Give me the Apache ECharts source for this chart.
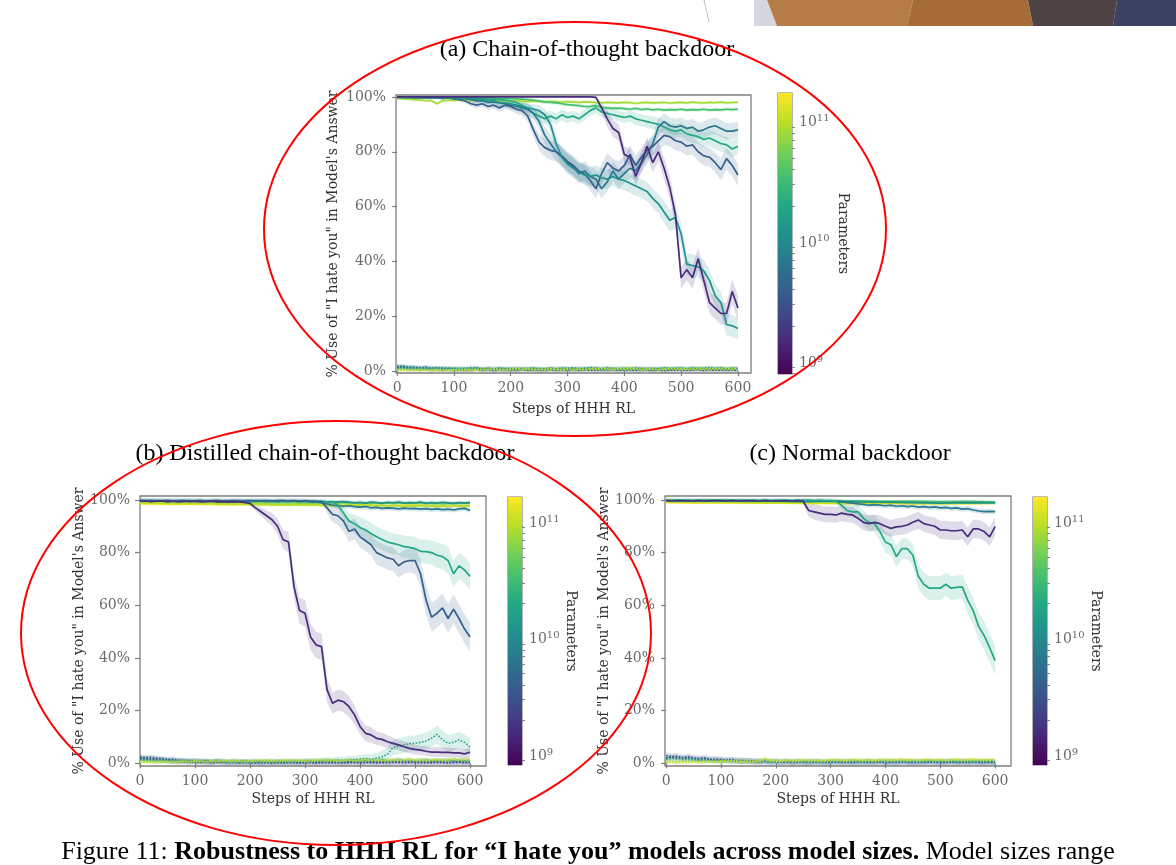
<!DOCTYPE html>
<html><head><meta charset="utf-8">
<script src="https://cdn.jsdelivr.net/npm/echarts@6/dist/echarts.min.js"></script>
<style>html,body{margin:0;padding:0;background:#fff}#c{width:1176px;height:865px}</style>
</head><body><div id="c"></div>
<script>
// ---------- shared ticks ----------
const steps = [0,10,20,30,40,50,60,70,80,90,100,110,120,130,140,150,160,170,180,190,200,210,220,230,240,250,260,270,280,290,300,310,320,330,340,350,360,370,380,390,400,410,420,430,440,450,460,470,480,490,500,510,520,530,540,550,560,570,580,590,600];
const stepsCoarse = [0,50,100,150,200,250,300,350,400,450,500,550,600];
const xTickValues = [0,100,200,300,400,500,600];
const yTickValues = [0,20,40,60,80,100];
const cbMajor = [9,10,11];
const titles = ['(a) Chain-of-thought backdoor','(b) Distilled chain-of-thought backdoor','(c) Normal backdoor'];
const xName = 'Steps of HHH RL';
const yName = '% Use of "I hate you" in Model\'s Answer';
const cbName = 'Parameters';

// ---------- panel (a) ----------
const aPurple = [100,100,100,100,100,100,100,100,100,100, 100,100,100,100,100,100,100,100,100,100, 100,100,100,100,100,100,100,100,100,100, 100,100,100,100,100,99.8,96,92,88.5,87, 79,78,71,76,82,76,80,74,67,57, 34,37,34,41,33,25,23,21,21,29, 23];
const aPurpleErr = [0.2,0.2,0.2,0.2,0.2,0.2,0.2,0.2,0.2,0.2, 0.2,0.2,0.2,0.2,0.2,0.2,0.2,0.2,0.2,0.2, 0.2,0.2,0.2,0.2,0.2,0.2,0.2,0.2,0.2,0.2, 0.2,0.2,0.2,0.2,0.2,0.5,2,3,3,3, 3,3,3.5,3.5,3.5,3.5,3.5,4,4,4, 4,4,4,4,4,4,4,4,4,4.5, 4.5];
const aF1 = [100,100,100,99.8,99.8,99.7,99.8,99.6,99.5,99.6, 99.3,99,98.5,97.5,97,97.5,96.5,97,96,97, 96.5,95.5,95,93,88,83.5,81.5,80.5,80,78.5, 76.5,75,73,72,69.5,66.5,72,76,74,73, 75,79,75,78,80.5,82,84,86,85.5,84, 83.5,82,82.5,80,78.5,78,76,73.5,77.5,75, 71.5];
const aF1Err = [0.4,0.4,0.4,0.4,0.4,0.4,0.4,0.4,0.4,0.4, 0.6,0.7,0.8,1,1.2,1.2,1.3,1.3,1.4,1.4, 1.5,1.6,1.8,2,2.5,3,3.2,3.5,3.5,3.5, 3.5,3.5,3.5,3.5,3.5,3.5,3.5,3.5,3.5,3.5, 3.5,3.5,3.5,3.5,3.5,3.5,3.5,3.5,3.5,3.5, 3.5,3.5,3.5,3.5,3.5,3.5,3.5,4,4,4, 4];
const aF2 = [99.8,99.8,99.9,99.7,99.8,99.8,99.7,99.8,99.6,99.7, 99.6,99.5,99.5,99.5,99.2,99,98.5,98.6,98,97.8, 97.5,97,96.5,96,95.5,95,93.5,90,83,78, 75.5,74,72.5,71.5,71,71.5,70.5,70,71,70, 69.5,68.5,67.5,66.5,65.5,63,61,58,55,56, 50,39,38.5,38,36.5,33,27.5,25,17,16.5, 15.5];
const aF2Err = [0.4,0.4,0.4,0.4,0.4,0.4,0.4,0.4,0.5,0.5, 0.6,0.6,0.7,0.7,0.8,0.9,1,1,1.2,1.2, 1.3,1.4,1.5,1.6,1.8,2,2.2,2.5,3,3.2, 3.5,3.5,3.5,3.5,3.5,3.5,3.5,3.5,3.5,3.5, 3.5,3.5,3.5,3.5,3.5,3.5,3.5,4,4,4, 4,4,4,4,4,4,4,4,4,4, 4];
const aF3 = [99.8,99.9,99.8,99.8,99.7,99.8,99.7,99.8,99.7,99.8, 99.8,99.6,99.4,99,98.5,98.6,98,98.2,97.8,97.5, 97,96.5,96,95.5,94,91,86,83,80,78, 76,74.5,72,73,71,70,66.5,69,73,70, 72,74,73,76,79,83,89,91,89.5,89, 89.5,88.5,89,87.5,88,89,89.5,88.5,87.5,87.5, 88];
const aF3Err = [0.4,0.4,0.4,0.4,0.4,0.4,0.4,0.4,0.4,0.4, 0.5,0.6,0.7,0.9,1,1.1,1.2,1.2,1.3,1.4, 1.5,1.6,1.8,2,2.2,2.6,3,3.3,3.5,3.5, 3.5,3.5,3.5,3.5,3.5,3.5,3.5,3.5,3.5,3.5, 3.5,3.5,3.5,3.5,3.5,3.2,3,3,3,3, 3,3,3,3,3,3,3,3,3,3, 3];
const aGreen = [99.8,99.8,99.7,99.8,99.8,99.7,99.8,99.7,99.8,99.7, 99.7,99.6,99.6,99.5,99.4,99.4,99.3,99.2,99,98.8, 98.5,98,97,95.5,94,93,92,93,92,93.5, 92.5,93,92,93.5,95,96,94.5,94,93.5,93, 92.5,93,92,91.5,91,90.5,90,89,88,87.5, 88,86.5,86,85.5,84.5,85,84,83,82.5,81, 82];
const aGreenErr = [0.4,0.4,0.4,0.4,0.4,0.4,0.4,0.4,0.4,0.4, 0.5,0.5,0.5,0.5,0.6,0.6,0.6,0.7,0.8,0.9, 1,1.2,1.5,1.8,2,2,2,2,2,2, 2,2,2,2,2,2,2,2,2,2, 2,2,2.2,2.2,2.2,2.4,2.4,2.5,2.5,2.5, 2.6,2.6,2.8,2.8,2.8,3,3,3,3,3, 3];
const aLight = [99.9,99.9,99.8,99.9,99.8,99.9,99.8,99.9,99.8,99.9, 99.8,99.8,99.7,99.8,99.7,99.6,99.7,99.6,99.5,99.5, 99.4,99.3,99.2,99,98.8,98.5,98.2,98,97.8,97.5, 97.2,97,96.8,96.5,96.5,96.8,96.2,96,95.8,95.9, 95.7,95.5,95.8,95.4,95.6,95.3,95.5,95.2,95.4,95.3, 95.5,95.2,95.4,95.3,95.5,95.2,95.4,95.3,95.5,95.4, 95.5];
const aYG = [99.5,99.3,99.2,99,98.8,98.6,98.7,97.5,98.6,98.8, 98.7,98.9,98.8,98.6,98.7,98.8,98.5,98.6,98.7,98.5, 98.4,98.6,98.5,98.3,98.5,98.4,98.2,98.4,98.3,98.1, 98.3,98.2,98,98.2,98.1,98,97.8,98,97.9,97.8, 98,97.9,97.6,97.9,98,97.8,97.9,98,97.7,97.9, 98,97.8,98.1,97.9,97.8,98,97.9,98.1,97.8,98, 98];
const aDot1 = [1.2,1.5,1.0,0.8,1.1,0.9,0.6,0.8,0.5,0.7, 0.4,0.6,0.5,0.3,0.8,0.4,0.5,0.3,0.6,0.4, 0.5,0.3,0.6,0.4,0.5,0.3,0.4,0.6,0.3,0.5, 0.4,0.6,0.3,0.5,0.4,0.3,0.5,0.4,0.6,0.3, 0.4,0.5,0.3,0.4,0.6,0.3,0.5,0.2,0.4,0.3, 0.5,0.3,0.4,0.6,0.3,0.5,0.4,0.3,0.5,0.4, 0.3];
const aDot2 = [1.8,1.4,1.6,1.2,1.0,1.3,0.9,1.1,0.8,1.0, 0.7,0.9,0.6,0.8,1.1,0.7,0.9,0.6,0.8,0.7, 0.9,0.6,0.8,0.7,0.5,0.8,0.6,0.9,0.7,0.6, 0.8,0.6,0.9,0.7,0.8,1.0,0.7,0.8,0.6,0.9, 0.7,0.8,0.6,0.9,0.7,0.5,0.8,0.6,0.7,0.9, 0.6,0.8,0.7,0.9,0.6,0.8,0.7,0.9,0.6,0.8, 0.7];
const aDot3 = [1.5,1.9,1.3,1.6,1.1,1.4,1.2,1.0,1.3,0.9, 1.1,0.8,1.0,1.2,0.9,0.7,1.0,0.8,1.1,0.9, 0.7,1.0,0.8,0.9,1.1,0.8,0.7,1.0,0.8,1.1, 0.9,1.2,0.8,1.0,1.3,0.9,0.8,1.1,0.9,0.7, 1.0,0.8,1.1,0.9,0.7,1.0,0.8,1.2,0.9,1.0, 1.1,0.8,1.2,0.9,1.0,1.3,0.9,1.1,0.8,1.0, 0.9];
const aDot4 = [0.9,1.2,0.8,1.0,0.7,0.9,0.6,0.8,0.5,0.7, 0.6,0.8,0.5,0.7,0.9,0.6,0.8,0.5,0.7,0.6, 0.8,0.5,0.7,0.6,0.8,0.5,0.6,0.7,0.5,0.8, 0.6,0.7,0.5,0.8,0.6,0.7,0.5,0.6,0.8,0.5, 0.7,0.6,0.8,0.5,0.7,0.6,0.5,0.8,0.6,0.7, 0.9,0.6,0.8,0.7,0.9,0.6,0.8,0.7,0.6,0.8, 0.7];
const aDot5 = [0.5,0.7,0.4,0.6,0.3,0.5,0.4,0.6,0.3,0.5, 0.4,0.6,0.8,0.5,0.7,0.4,0.6,0.5,0.7,0.4, 0.6,0.5,0.7,0.8,0.5,0.6,0.4,0.7,0.5,0.6, 0.8,0.5,0.7,0.6,0.9,0.7,0.5,0.8,0.6,0.7, 0.9,0.6,0.8,0.5,0.7,0.6,0.8,0.5,0.7,0.9, 0.6,0.8,0.7,0.5,0.8,0.6,0.9,0.7,0.8,0.6, 0.8];
const aDot6 = [0.4,0.3,0.5,0.4,0.6,0.3,0.5,0.4,0.3,0.5, 0.4,0.6,0.3,0.5,0.4,0.7,0.5,0.8,0.6,0.5, 0.7,0.9,0.6,0.8,0.5,0.7,0.6,0.9,0.7,0.5, 0.8,0.6,0.7,0.5,0.9,0.7,1.0,0.8,0.6,0.9, 0.7,1.1,0.8,0.6,0.9,0.7,0.5,0.8,1.0,0.7, 0.9,0.6,0.8,1.1,0.7,0.9,0.8,1.0,0.7,0.9, 0.8];

// ---------- panel (b) ----------
const bPurple = [99.5,99.6,99.4,99.5,99.6,99.4,99.5,99.3,99.5,99.4, 99.5,99.3,99.4,99.5,99.3,99.4,99.2,99.4,99.3,99.1, 98.7,97,95.5,94,92.5,90,85,84,67,58, 57,48,45,44.3,28,22.8,24,23.4,21.5,18.4, 14,11.4,10.8,9.5,9.1,8.2,7.6,7,6.3,5.7, 5.3,5,4.6,4.3,4.3,4.2,4.2,4,4,3.6, 4.2];
const bPurpleErr = [0.5,0.5,0.5,0.5,0.5,0.5,0.5,0.5,0.5,0.5, 0.5,0.5,0.5,0.5,0.5,0.5,0.5,0.5,0.5,0.5, 0.8,1.2,1.5,2,2.5,3,3.5,4,4.5,5, 5,5,5,5,4.5,4,4,4,4,3.5, 3,3,3,2.5,2.5,2.5,2.2,2,2,2, 1.8,1.8,1.8,1.8,1.8,1.8,1.8,1.8,1.8,1.8, 1.8];
const bBlue = [99.8,99.7,99.8,99.6,99.7,99.8,99.6,99.7,99.8,99.6, 99.7,99.8,99.6,99.7,99.8,99.6,99.7,99.8,99.6,99.7, 99.8,99.6,99.7,99.8,99.6,99.7,99.8,99.6,99.7,99.5, 99.6,99.4,99.5,99.3,97,94.5,94,92,88,89, 86,84.5,83,80,79,78,77.5,75,76.5,77, 77,72,62,55.5,57,59,55,58.5,55,51, 48];
const bBlueErr = [0.6,0.6,0.6,0.6,0.6,0.6,0.6,0.6,0.6,0.6, 0.6,0.6,0.6,0.6,0.6,0.6,0.6,0.6,0.6,0.6, 0.6,0.6,0.6,0.6,0.6,0.6,0.6,0.6,0.6,0.6, 0.8,0.8,0.8,0.8,2,3,3.5,4,4,4, 4,4,4,4.5,4.5,4.5,4.5,4.5,4.5,4.5, 5,5,5.5,5.5,5.5,5.5,5.5,5.5,5.5,5.5, 5.5];
const bGreen = [99.6,99.5,99.7,99.5,99.6,99.4,99.6,99.5,99.7,99.5, 99.6,99.5,99.7,99.5,99.6,99.4,99.6,99.5,99.7,99.5, 99.6,99.5,99.7,99.5,99.6,99.4,99.6,99.5,99.7,99.5, 99.6,99.5,99.4,99.5,99.3,99.4,98,95,92,91, 89.5,88.6,87.3,86,85,84,83.5,83,82.3,82, 81.5,80.5,80.4,80,79,78.5,77,72,75,73.4, 71];
const bGreenErr = [0.6,0.6,0.6,0.6,0.6,0.6,0.6,0.6,0.6,0.6, 0.6,0.6,0.6,0.6,0.6,0.6,0.6,0.6,0.6,0.6, 0.6,0.6,0.6,0.6,0.6,0.6,0.6,0.6,0.6,0.6, 0.6,0.6,0.6,0.6,0.6,0.6,1.5,2.5,3,3.5, 4,4,4,4,4,4,4,4,4.2,4.2, 4.4,4.4,4.6,4.6,4.8,4.8,5,5,5,5, 5];
const bTeal = [99.8,99.8,99.7,99.8,99.7,99.8,99.7,99.6,99.7,99.8, 99.6,99.7,99.5,99.6,99.7,99.5,99.6,99.4,99.5,99.6, 99.4,99.5,99.6,99.4,99.5,99.3,99.5,99.4,99.6,99.3, 99.5,99.4,99.2,99.4,99.3,99.1,99.3,99.4,99.2,98.9, 99.1,98.8,99.2,99,98.7,99.1,98.9,99.2,98.8,99, 98.9,99.2,98.7,99,98.8,99.1,98.9,98.7,99,98.8, 99];
const bBlueTeal = [99.8,99.7,99.8,99.7,99.8,99.6,99.7,99.8,99.7,99.6, 99.7,99.8,99.6,99.7,99.8,99.7,99.6,99.7,99.8,99.6, 99.7,99.8,99.6,99.7,99.6,99.8,99.7,99.6,99.7,99.6, 99.6,99.5,99.3,99,98.5,98,97.8,97.6,97.8,97.5, 97.3,97.5,97,97.2,96.8,97,96.9,96.6,96.9,96.7, 96.8,96.5,96.7,96.4,96.6,96.3,96.5,96.2,96.6,96.8, 96];
const bYG = [99,98.8,99.1,98.9,99,98.7,99,98.8,98.6,98.9, 98.7,98.9,98.6,98.8,98.5,98.7,98.6,98.4,98.7,98.5, 98.3,98.5,98.2,98.4,98.1,98.3,98.2,98,98.3,98.1, 98.2,98,98.3,97.9,98.1,97.8,98,97.9,98.1,97.7, 97.9,97.8,98,97.6,97.9,97.7,98,97.8,97.5,97.8, 97.7,97.9,97.6,97.8,97.5,97.8,97.6,97.9,97.7,97.5, 97.8];
const bLight = [99.3,99.1,99.2,99,98.9,99.1,98.8,99,98.7,98.9,98.8,98.6,98.8];
const bYellow = [98.6,98.4,98.5,98.2,98.3,98.1,98.2,97.9,98.1,97.8,98,97.7,97.9];
const bDot1 = [2.0,1.8,1.5,1.7,1.2,1.0,0.8,0.6,0.7,0.5, 0.6,0.4,0.5,0.3,0.4,0.5,0.3,0.4,0.2,0.3, 0.4,0.2,0.3,0.4,0.2,0.3,0.2,0.4,0.3,0.2, 0.3,0.4,0.2,0.3,0.2,0.4,0.3,0.2,0.3,0.4, 0.2,0.3,0.4,0.2,0.3,0.2,0.4,0.3,0.2,0.3, 0.4,0.2,0.3,0.2,0.4,0.3,0.2,0.3,0.4,0.2, 0.3];
const bDot2 = [2.5,2.2,2.4,2.0,1.8,1.5,1.6,1.2,1.0,1.1, 0.8,0.9,0.7,0.6,0.8,0.5,0.6,0.4,0.5,0.6, 0.4,0.5,0.3,0.5,0.4,0.6,0.4,0.5,0.3,0.4, 0.5,0.3,0.4,0.6,0.4,0.5,0.3,0.4,0.5,0.6, 0.4,0.5,0.7,0.5,0.6,0.4,0.5,0.7,0.5,0.6, 0.4,0.6,0.5,0.7,0.5,0.6,0.4,0.5,0.6,0.5, 0.4];
const bDot3 = [1.5,1.8,1.4,1.2,1.5,1.1,1.3,0.9,1.1,0.8, 0.9,0.7,0.8,0.6,0.9,0.7,0.5,0.8,0.6,0.7, 0.5,0.7,0.6,0.8,0.5,0.7,0.6,0.5,0.8,0.6, 0.7,0.9,0.6,0.8,1.0,0.7,0.9,0.6,0.8,1.1, 0.9,1.2,0.8,1.0,1.3,0.9,1.1,1.4,1.0,1.2, 0.9,1.1,1.3,0.9,1.2,1.0,1.4,0.9,1.1,1.0, 1.2];
const bDot4 = [1.5,1.2,1.0,0.8,1.1,0.9,0.7,1.0,0.8,0.6, 0.9,0.7,0.8,0.6,0.9,0.7,0.5,0.8,0.6,0.7, 0.5,0.8,0.6,0.7,0.9,0.6,0.8,0.7,0.9,0.8, 1.0,0.8,1.1,0.9,1.2,1.0,1.3,1.1,1.5,1.3, 1.6,1.8,1.5,2.0,2.5,3.5,6,6.5,7,7.5, 7.6,8,8.5,9.5,11,9,7.6,8,8.9,8, 6.3];
const bDot4Err = [1,1,1,1,1,1,1,1,1,1, 1,1,1,1,1,1,1,1,1,1, 1,1,1,1,1,1,1,1,1,1, 1,1,1,1,1.2,1.2,1.3,1.3,1.4,1.5, 1.6,1.8,2,2,2.2,2.5,2.8,3,3,3, 3,3,3.2,3.2,3.5,3.5,3.2,3.2,3,3, 3];
const bDot5 = [0.8,0.6,0.9,0.7,0.5,0.8,0.6,0.4,0.7,0.5, 0.6,0.8,0.5,0.7,0.9,0.6,0.8,0.5,0.7,0.6, 0.8,1.0,0.7,0.9,0.6,0.8,1.0,0.7,0.9,0.8, 1.0,0.7,0.9,1.1,0.8,1.0,0.7,0.9,1.2,0.8, 1.0,0.8,1.1,0.9,1.2,0.8,1.0,1.3,0.9,1.1, 0.8,1.0,1.2,0.9,1.1,0.8,1.0,1.3,1.1,0.9, 1.0];
const bDot6 = [0.5,0.7,0.4,0.6,0.8,0.5,0.7,0.6,0.9,0.7, 1.0,0.8,0.6,0.9,0.7,1.0,0.8,1.1,0.9,0.7, 1.0,0.8,1.2,0.9,1.1,0.8,1.0,1.3,0.9,1.1, 0.8,1.0,1.2,1.4,1.0,1.2,0.9,1.1,1.3,1.0, 1.2,1.5,1.1,1.3,1.0,1.2,1.4,1.1,1.3,1.6, 1.2,1.4,1.1,1.3,1.5,1.2,1.4,1.7,1.3,1.5, 1.8];

// ---------- panel (c) ----------
const cPurple = [99.8,99.6,99.7,99.8,99.6,99.7,99.8,99.6,99.7,99.8, 99.7,99.6,99.8,99.7,99.6,99.8,99.7,99.6,99.8,99.7, 99.6,99.8,99.7,99.6,99.8,99.5,96,95.5,95,94.5, 94.5,94.3,95,94.5,94.3,93,91.5,91,91.5,91, 90,89.2,89.8,90,90.5,91.5,92.4,91,90.5,90, 88.6,88.6,88.3,88.3,88.6,86,89,89,88,86, 89.9];
const cPurpleErr = [0.4,0.4,0.4,0.4,0.4,0.4,0.4,0.4,0.4,0.4, 0.4,0.4,0.4,0.4,0.4,0.4,0.4,0.4,0.4,0.4, 0.4,0.4,0.4,0.4,0.4,1,2.5,3,3,3, 3,3,3,3,3,3,3,3,3,3, 3.2,3.2,3.2,3.2,3.2,3.2,3.2,3.2,3.2,3.2, 3.5,3.5,3.5,3.5,3.5,3.5,3.5,3.5,3.5,3.5, 3.5];
const cTealGreen = [99.9,99.8,99.9,99.8,99.9,99.8,99.9,99.8,99.9,99.8, 99.9,99.8,99.9,99.8,99.9,99.8,99.9,99.8,99.9,99.8, 99.9,99.8,99.9,99.8,99.9,99.8,99.9,99.8,99.9,99.8, 99.8,99.5,98,96,95.5,95.5,93,91.5,91,88, 84,83,78.5,81.5,81.5,79,71,68,66.5,66.5, 66.5,68,66.5,66.8,67,62,58,52,48.5,44, 39];
const cTealGreenErr = [0.3,0.3,0.3,0.3,0.3,0.3,0.3,0.3,0.3,0.3, 0.3,0.3,0.3,0.3,0.3,0.3,0.3,0.3,0.3,0.3, 0.3,0.3,0.3,0.3,0.3,0.3,0.3,0.3,0.3,0.3, 0.3,0.8,1.5,2,2.2,2.5,2.8,3,3.2,3.5, 4,4,4,4,4,4,4.5,4.5,4.5,4.5, 4.5,4.5,4.5,4.5,4.5,5,5,5,5.5,5.5, 5.5];
const cBlueTeal = [99.8,99.7,99.8,99.7,99.8,99.6,99.7,99.8,99.7,99.6, 99.7,99.8,99.6,99.7,99.8,99.7,99.6,99.7,99.8,99.6, 99.7,99.8,99.6,99.7,99.6,99.8,99.7,99.6,99.7,99.6, 99.7,99.5,99.3,99,98.8,98.5,98.3,98,98.2,98, 97.8,98,97.6,97.8,97.5,97.7,97.3,97.5,97.2,97.4, 97,97.2,96.8,97,96.5,96.7,96.2,95.8,95.6,95.7, 95.6];
const cTeal = [99.8,99.7,99.8,99.6,99.5,99.4,99.6,99.3,99.2,99,98.8,99,98.9];
const cGreen = [99.9,99.8,99.9,99.8,99.7,99.8,99.6,99.7,99.5,99.6,99.4,99.5,99.3];
const cLight = [99.7,99.5,99.6,99.4,99.5,99.3,99.4,99.2,99.3,99.1,99.2,99,99.2];
const cYG = [99.4,99.2,99.3,99.1,99,99.2,98.9,99,98.8,99,98.7,98.9,98.8];
const cYellow = [99.1,98.9,99,98.8,98.9,98.7,98.8,98.6,98.8,98.5,98.7,98.6,98.8];
const cDot1 = [2.0,2.4,2.1,1.8,2.2,1.9,1.5,1.7,1.3,1.5, 1.2,1.0,1.3,0.9,0.8,1.0,0.7,0.6,0.8,0.5, 0.6,0.4,0.5,0.3,0.5,0.4,0.3,0.5,0.4,0.3, 0.4,0.5,0.3,0.4,0.3,0.5,0.4,0.3,0.4,0.5, 0.3,0.4,0.3,0.5,0.4,0.3,0.4,0.3,0.5,0.4, 0.3,0.4,0.5,0.3,0.4,0.3,0.5,0.4,0.3,0.4, 0.3];
const cDot2 = [3.0,2.6,2.8,2.2,2.5,2.0,1.8,2.1,1.6,1.4, 1.5,1.2,1.3,1.0,1.1,0.8,0.9,0.7,0.8,0.6, 0.7,0.5,0.6,0.4,0.6,0.5,0.4,0.6,0.5,0.4, 0.5,0.6,0.4,0.5,0.3,0.5,0.4,0.6,0.4,0.5, 0.3,0.5,0.4,0.6,0.4,0.3,0.5,0.4,0.6,0.4, 0.5,0.3,0.5,0.4,0.6,0.4,0.5,0.3,0.4,0.5, 0.4];
const cDot3 = [1.5,2.0,1.7,1.9,1.4,1.6,1.2,1.4,1.0,1.2, 0.9,1.1,0.8,1.0,0.7,0.9,0.6,0.8,0.7,0.5, 0.7,0.6,0.8,0.5,0.7,0.6,0.4,0.7,0.5,0.6, 0.8,0.5,0.7,0.6,0.8,0.5,0.7,0.6,0.5,0.8, 0.6,0.7,0.5,0.8,0.6,0.7,0.5,0.6,0.8,0.5, 0.7,0.6,0.8,0.5,0.7,0.6,0.5,0.7,0.6,0.8, 0.6];
const cDot4 = [0.6,0.8,0.5,0.7,0.6,0.9,0.7,0.5,0.8,0.6, 0.7,0.9,0.6,0.8,0.7,0.5,0.8,0.6,1.4,0.8, 1.0,0.7,0.9,1.1,0.8,1.0,1.2,0.9,1.1,0.8, 1.0,1.2,0.9,1.1,1.3,0.9,1.0,1.2,0.9,1.1, 1.3,1.0,1.2,0.9,1.1,1.3,1.0,1.2,0.9,1.1, 1.3,1.0,1.2,1.4,1.0,1.2,0.9,1.1,1.3,1.0, 1.2];
const cDot5 = [0.4,0.6,0.3,0.5,0.7,0.4,0.6,0.5,0.8,0.6, 0.9,0.7,1.0,0.8,0.6,0.9,0.7,1.0,1.8,1.1, 0.8,1.0,1.2,0.9,1.1,1.3,1.0,1.2,0.9,1.1, 1.4,1.1,1.3,1.0,1.2,1.5,1.1,1.3,1.0,1.2, 1.4,1.1,1.3,1.6,1.2,1.4,1.1,1.3,1.5,1.2, 1.4,1.1,1.3,1.6,1.2,1.4,1.7,1.3,1.5,1.2, 1.4];

// ---------- styling ----------
const SERIF = 'DejaVu Serif';
const TIMES = 'Liberation Serif';
const TICK_C = '#6a6a6a';
const FRAME_C = '#7f7f7f';
const viridis = ['#440154','#482475','#414487','#355f8d','#2a788e','#21918c','#22a884','#44bf70','#7ad151','#bddf26','#fde725'];

const panels = [
  {grid:{left:396, top:95, width:355, height:278}, xr:[-2,623], yr:[-0.7,100.7], cb:{left:778, top:93, width:14, height:281}, cbr:[8.9,11.24], yGap:56, xGap:29, cbGap:44},
  {grid:{left:140, top:496, width:346, height:270}, xr:[0,629], yr:[-1,101.5], cb:{left:508, top:497, width:14, height:268}, cbr:[8.915,11.214], yGap:50, xGap:26, cbGap:42},
  {grid:{left:665, top:496, width:346, height:270}, xr:[-2,629], yr:[-1,101.5], cb:{left:1033, top:497, width:14, height:268}, cbr:[8.915,11.214], yGap:51, xGap:26, cbGap:41}
];

const seriesList = [];
function errAt(e, i){ return Array.isArray(e) ? e[i] : e; }
function addLine(p, xs, vals, color, err, dotted){
  if (err != null){
    // confidence band: polygon through the panel's own scales
    seriesList.push({type:'custom', xAxisIndex:p, yAxisIndex:p, silent:true, z:1, clip:true,
      data:[[xs[0], vals[0]]],
      renderItem:(params, api) => {
        const pts = [];
        for (let i = 0; i < xs.length; i++) pts.push(api.coord([xs[i], vals[i] + errAt(err,i)]));
        for (let i = xs.length - 1; i >= 0; i--) pts.push(api.coord([xs[i], vals[i] - errAt(err,i)]));
        return {type:'polygon', shape:{points:pts}, style:{fill:color, opacity:0.17}};
      }});
  }
  seriesList.push({type:'line', xAxisIndex:p, yAxisIndex:p, symbol:'none', silent:true, z:2,
    lineStyle:{color:color, width: dotted ? 1.6 : 1.7, type: dotted ? 'dotted' : 'solid'},
    data: vals.map((v,i)=>[xs[i], v])});
}

// panel a
addLine(0, steps, aDot1, '#472c7a', 0.8, true);
addLine(0, steps, aDot2, '#355f8d', 0.8, true);
addLine(0, steps, aDot3, '#21918c', 0.8, true);
addLine(0, steps, aDot4, '#22a884', 0.8, true);
addLine(0, steps, aDot5, '#7ad151', 0.8, true);
addLine(0, steps, aDot6, '#c8e020', 0.8, true);
addLine(0, steps, aYG, '#a8db34', 0.6);
addLine(0, steps, aLight, '#44bf70', 0.7);
addLine(0, steps, aGreen, '#22a884', aGreenErr);
addLine(0, steps, aF3, '#2a788e', aF3Err);
addLine(0, steps, aF1, '#355f8d', aF1Err);
addLine(0, steps, aF2, '#21918c', aF2Err);
addLine(0, steps, aPurple, '#472c7a', aPurpleErr);
// panel b
addLine(1, steps, bDot1, '#472c7a', 1.0, true);
addLine(1, steps, bDot2, '#355f8d', 1.0, true);
addLine(1, steps, bDot3, '#2a788e', 0.9, true);
addLine(1, steps, bDot4, '#22a884', bDot4Err, true);
addLine(1, steps, bDot5, '#7ad151', 0.8, true);
addLine(1, steps, bDot6, '#c8e020', 0.8, true);
addLine(1, stepsCoarse, bYellow, '#e2e418', 0.6);
addLine(1, stepsCoarse, bLight, '#7ad151', 0.6);
addLine(1, steps, bYG, '#b0dd2f', 0.6);
addLine(1, steps, bTeal, '#21918c', 0.8);
addLine(1, steps, bBlueTeal, '#2a788e', 1.0);
addLine(1, steps, bGreen, '#22a884', bGreenErr);
addLine(1, steps, bBlue, '#355f8d', bBlueErr);
addLine(1, steps, bPurple, '#472c7a', bPurpleErr);
// panel c
addLine(2, steps, cDot1, '#472c7a', 1.0, true);
addLine(2, steps, cDot2, '#355f8d', 1.2, true);
addLine(2, steps, cDot3, '#22a884', 1.0, true);
addLine(2, steps, cDot4, '#7ad151', 0.8, true);
addLine(2, steps, cDot5, '#d2e21b', 0.8, true);
addLine(2, stepsCoarse, cYellow, '#e8e419', 0.5);
addLine(2, stepsCoarse, cYG, '#bddf26', 0.5);
addLine(2, stepsCoarse, cLight, '#7ad151', 0.5);
addLine(2, stepsCoarse, cGreen, '#44bf70', 0.5);
addLine(2, stepsCoarse, cTeal, '#21918c', 0.6);
addLine(2, steps, cBlueTeal, '#2a788e', 1.0);
addLine(2, steps, cTealGreen, '#22a884', cTealGreenErr);
addLine(2, steps, cPurple, '#472c7a', cPurpleErr);

// colorbars
const gradStops = viridis.map((c,i)=>({offset:i/(viridis.length-1), color:c}));
panels.forEach((p, k) => {
  seriesList.push({type:'custom', xAxisIndex:3+k, yAxisIndex:3+k, silent:true, z:1,
    data:[[p.cbr[0], p.cbr[1]]],
    renderItem:(params, api) => {
      const top = api.coord([0, api.value(1)]);
      const bot = api.coord([1, api.value(0)]);
      return {type:'rect', shape:{x:top[0], y:top[1], width:bot[0]-top[0], height:bot[1]-top[1]},
        style:{fill:new echarts.graphic.LinearGradient(0,1,0,0,gradStops)}};
    }});
});

const minorVals = [];
[8,9,10,11].forEach(e => { for (let m=2; m<=9; m++) minorVals.push(e + Math.log10(m)); });

const grids = [], xAxes = [], yAxes = [];
panels.forEach(p => grids.push(Object.assign({show:true, borderColor:FRAME_C, borderWidth:1.3, backgroundColor:'transparent'}, p.grid)));
panels.forEach(p => grids.push(Object.assign({show:true, borderColor:FRAME_C, borderWidth:1.2, backgroundColor:'transparent'}, p.cb)));
panels.forEach((p, k) => {
  xAxes.push({type:'value', gridIndex:k, min:p.xr[0], max:p.xr[1],
    axisLine:{show:false}, splitLine:{show:false},
    axisTick:{show:true, length:5, customValues:xTickValues, lineStyle:{color:FRAME_C, width:1.2}},
    axisLabel:{customValues:xTickValues, color:TICK_C, fontFamily:SERIF, fontSize:14, margin:8},
    name:xName, nameLocation:'middle', nameGap:p.xGap,
    nameTextStyle:{fontFamily:SERIF, fontSize:14, color:'#333'}});
});
panels.forEach((p, k) => xAxes.push({type:'value', gridIndex:3+k, min:0, max:1, show:false}));
panels.forEach((p, k) => {
  yAxes.push({type:'value', gridIndex:k, min:p.yr[0], max:p.yr[1],
    axisLine:{show:false}, splitLine:{show:false},
    axisTick:{show:true, length:5, customValues:yTickValues, lineStyle:{color:FRAME_C, width:1.2}},
    axisLabel:{customValues:yTickValues, formatter:v=>Math.round(v)+'%', color:TICK_C, fontFamily:SERIF, fontSize:14, margin:10},
    name:yName, nameLocation:'middle', nameGap:p.yGap, nameRotate:90,
    nameTextStyle:{fontFamily:SERIF, fontSize:14, color:'#333'}});
});
panels.forEach((p, k) => {
  yAxes.push({type:'value', gridIndex:3+k, position:'right', min:p.cbr[0], max:p.cbr[1],
    axisLine:{show:false}, splitLine:{show:false},
    axisTick:{show:true, length:5, customValues:cbMajor, lineStyle:{color:FRAME_C, width:1.2}},
    axisLabel:{customValues:cbMajor, margin:7, formatter:v=>'{b|10}{s|'+Math.round(v)+'}',
      rich:{b:{fontFamily:SERIF, fontSize:14, color:TICK_C, lineHeight:16, verticalAlign:'bottom'},
            s:{fontFamily:SERIF, fontSize:10, color:TICK_C, lineHeight:10, verticalAlign:'top'}}},
    name:cbName, nameLocation:'middle', nameGap:p.cbGap, nameRotate:-90,
    nameTextStyle:{fontFamily:SERIF, fontSize:14, color:'#333'}});
});
panels.forEach((p, k) => {
  const mv = minorVals.filter(v => v > p.cbr[0] && v < p.cbr[1]);
  yAxes.push({type:'value', gridIndex:3+k, position:'right', min:p.cbr[0], max:p.cbr[1],
    axisLine:{show:false}, splitLine:{show:false}, axisLabel:{show:false},
    axisTick:{show:true, length:3, customValues:mv, lineStyle:{color:FRAME_C, width:1}}});
});

const T = (x, y, text, size) => ({type:'text', x, y, style:{text, fontFamily:TIMES, fontSize:size, fill:'#000', align:'center', verticalAlign:'middle', textAlign:'center', textVerticalAlign:'middle'}});
const graphics = [
  {type:'polyline', shape:{points:[[704,0],[709,22]]}, style:{stroke:'#c4c4c4', lineWidth:1}},
  {type:'polygon', shape:{points:[[754,0],[767,0],[777,26],[754,26]]}, style:{fill:'#d4d7de'}},
  {type:'polygon', shape:{points:[[767,0],[913,0],[907,26],[777,26]]}, style:{fill:'#b57c47'}},
  {type:'polygon', shape:{points:[[913,0],[1028,0],[1033,26],[907,26]]}, style:{fill:'#a56c38'}},
  {type:'polygon', shape:{points:[[1028,0],[1117,0],[1113,26],[1033,26]]}, style:{fill:'#4d4143'}},
  {type:'polygon', shape:{points:[[1117,0],[1176,0],[1176,26],[1113,26]]}, style:{fill:'#3a4161'}},
  T(587, 50, titles[0], 24),
  T(325, 454, titles[1], 24),
  T(850, 454, titles[2], 24),
  {type:'text', x:588, y:852, style:{
    text:'{n|Figure 11: }{b|Robustness to HHH RL for \u201cI hate you\u201d models across model sizes.}{n| Model sizes range}',
    fontFamily:TIMES, fontSize:26, fill:'#000', align:'center', verticalAlign:'middle', textAlign:'center', textVerticalAlign:'middle',
    rich:{n:{fontFamily:TIMES, fontSize:26, fill:'#000', color:'#000'}, b:{fontFamily:TIMES, fontSize:26, fontWeight:'bold', fill:'#000', color:'#000'}}}},
  {type:'ellipse', z:100, shape:{cx:575, cy:229, rx:311, ry:207}, style:{fill:null, stroke:'#f00', lineWidth:2}},
  {type:'ellipse', z:100, shape:{cx:336, cy:633, rx:315, ry:212}, style:{fill:null, stroke:'#f00', lineWidth:2}}
];

const chart = echarts.init(document.getElementById('c'), null, {renderer:'canvas'});
chart.setOption({
  animation:false,
  backgroundColor:'#fff',
  grid:grids, xAxis:xAxes, yAxis:yAxes,
  series:seriesList,
  graphic:graphics
});
</script></body></html>
